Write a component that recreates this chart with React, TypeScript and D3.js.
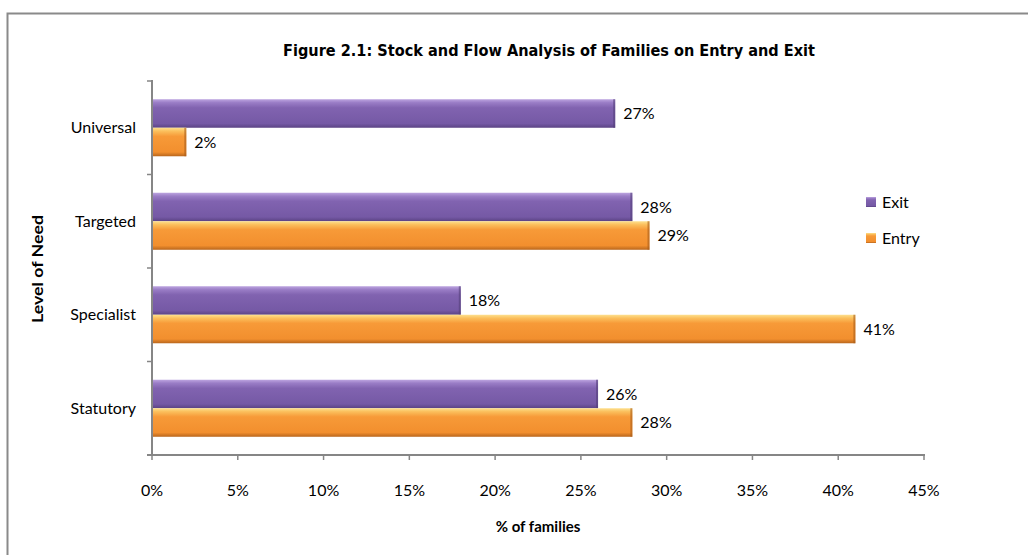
import React, { useEffect, useRef } from 'react';
import * as d3 from 'd3';

// Chart data
const categories = ['Universal', 'Targeted', 'Specialist', 'Statutory'];
const seriesNames = ['Exit', 'Entry'];
const exitValues = [27, 28, 18, 26];
const entryValues = [2, 29, 41, 28];
const xTicks = [0, 5, 10, 15, 20, 25, 30, 35, 40, 45];

const chartTitle = 'Figure 2.1: Stock and Flow Analysis of Families on Entry and Exit';
const yTitle = 'Level of Need';
const xTitle = '% of families';

const App = () => {
  const ref = useRef<SVGSVGElement>(null);

  useEffect(() => {
    const svg = d3.select(ref.current);
    svg.selectAll('*').remove();

    const width = 1028;
    const height = 555;
    const left = 152;
    const right = 924;
    const top = 81;
    const bottom = 455;
    const font = 'Lato, "Open Sans", sans-serif';

    // Gradients for the bevelled bars
    const defs = svg.append('defs');
    const grad = (id: string, stops: [number, string][]) => {
      const g = defs.append('linearGradient').attr('id', id)
        .attr('x1', 0).attr('y1', 0).attr('x2', 0).attr('y2', 1);
      stops.forEach(([o, c]) => g.append('stop').attr('offset', o).attr('stop-color', c));
    };
    grad('gExit', [[0, '#bda5e0'], [0.12, '#9a7dc6'], [0.3, '#8163b0'], [0.85, '#7559a5'], [1, '#5b4384']]);
    grad('gEntry', [[0, '#fde08e'], [0.12, '#fbbf5c'], [0.3, '#f79a38'], [0.85, '#f28f2e'], [1, '#b9661c']]);
    const fills = ['url(#gExit)', 'url(#gEntry)'];
    const edges = ['#54407a', '#a85d1a'];

    // Outer frame
    svg.append('rect')
      .attr('x', 7.5).attr('y', 13.5)
      .attr('width', width).attr('height', height)
      .attr('fill', '#fff').attr('stroke', '#8a8a8a').attr('stroke-width', 2);

    // Scales
    const x = d3.scaleLinear().domain([0, 45]).range([left, right]);
    const y = d3.scaleBand().domain(categories).range([top, bottom])
      .paddingInner(0.39).paddingOuter(0.195);
    const ySub = d3.scaleBand().domain(seriesNames).range([0, y.bandwidth()]);
    const step = y.step();

    const data = categories.map((c, i) => ({ cat: c, vals: [exitValues[i], entryValues[i]] }));

    // Bars
    const groups = svg.append('g').selectAll('g').data(data).enter().append('g')
      .attr('transform', (d) => `translate(0,${y(d.cat)})`);
    seriesNames.forEach((s, si) => {
      groups.append('rect')
        .attr('x', x(0))
        .attr('y', ySub(s)!)
        .attr('width', (d) => x(d.vals[si]) - x(0))
        .attr('height', ySub.bandwidth())
        .attr('fill', fills[si]);
      // darker right edge
      groups.append('rect')
        .attr('x', (d) => x(d.vals[si]) - 2)
        .attr('y', ySub(s)!)
        .attr('width', 2)
        .attr('height', ySub.bandwidth())
        .attr('fill', edges[si])
        .attr('opacity', 0.6);
      groups.append('text')
        .attr('x', (d) => x(d.vals[si]) + 8)
        .attr('y', ySub(s)! + ySub.bandwidth() / 2)
        .attr('dy', '0.35em')
        .style('font-family', font)
        .style('font-size', '16px')
        .attr('fill', '#000')
        .text((d) => `${d.vals[si]}%`);
    });

    // Axes
    const axisColor = '#868686';
    svg.append('line').attr('x1', left).attr('x2', left).attr('y1', top - 1).attr('y2', bottom + 1)
      .attr('stroke', axisColor).attr('stroke-width', 2);
    svg.append('line').attr('x1', left - 5).attr('x2', right + 1).attr('y1', bottom).attr('y2', bottom)
      .attr('stroke', axisColor).attr('stroke-width', 2);
    d3.range(categories.length + 1).forEach((i) => {
      svg.append('line').attr('x1', left - 5).attr('x2', left)
        .attr('y1', top + i * step).attr('y2', top + i * step)
        .attr('stroke', axisColor).attr('stroke-width', 1.5);
    });
    xTicks.forEach((t) => {
      svg.append('line').attr('x1', x(t)).attr('x2', x(t)).attr('y1', bottom).attr('y2', bottom + 5)
        .attr('stroke', axisColor).attr('stroke-width', 1.5);
      svg.append('text').attr('x', x(t)).attr('y', 490).attr('dy', '0.35em')
        .attr('text-anchor', 'middle')
        .style('font-family', font).style('font-size', '16px')
        .text(`${t}%`);
    });

    // Category labels
    categories.forEach((c) => {
      svg.append('text').attr('x', 136).attr('y', y(c)! + y.bandwidth() / 2).attr('dy', '0.35em')
        .attr('text-anchor', 'end')
        .style('font-family', font).style('font-size', '16px')
        .text(c);
    });

    // Titles
    svg.append('text').attr('x', 549).attr('y', 50).attr('dy', '0.35em')
      .attr('text-anchor', 'middle')
      .attr('textLength', 532).attr('lengthAdjust', 'spacingAndGlyphs')
      .style('font-family', '"DejaVu Sans", sans-serif').style('font-weight', 'bold').style('font-size', '16px')
      .text(chartTitle);
    svg.append('text').attr('transform', `translate(37,269) rotate(-90)`)
      .attr('dy', '0.35em').attr('text-anchor', 'middle')
      .attr('textLength', 108).attr('lengthAdjust', 'spacingAndGlyphs')
      .style('font-family', font).style('font-weight', 'bold').style('font-size', '16px')
      .text(yTitle);
    svg.append('text').attr('x', (left + right) / 2).attr('y', 527).attr('dy', '0.35em')
      .attr('text-anchor', 'middle')
      .style('font-family', font).style('font-weight', 'bold').style('font-size', '15px')
      .text(xTitle);

    // Legend
    const legendY = [202, 238];
    seriesNames.forEach((s, i) => {
      svg.append('rect').attr('x', 866).attr('y', legendY[i] - 5).attr('width', 10).attr('height', 10)
        .attr('fill', fills[i]);
      svg.append('text').attr('x', 882).attr('y', legendY[i]).attr('dy', '0.35em')
        .style('font-family', font).style('font-size', '16px')
        .text(s);
    });
  }, []);

  return (
    <svg ref={ref} width={1028} height={555}
      style={{ position: 'absolute', left: 0, top: 0, background: '#fff' }} />
  );
};

export default App;
